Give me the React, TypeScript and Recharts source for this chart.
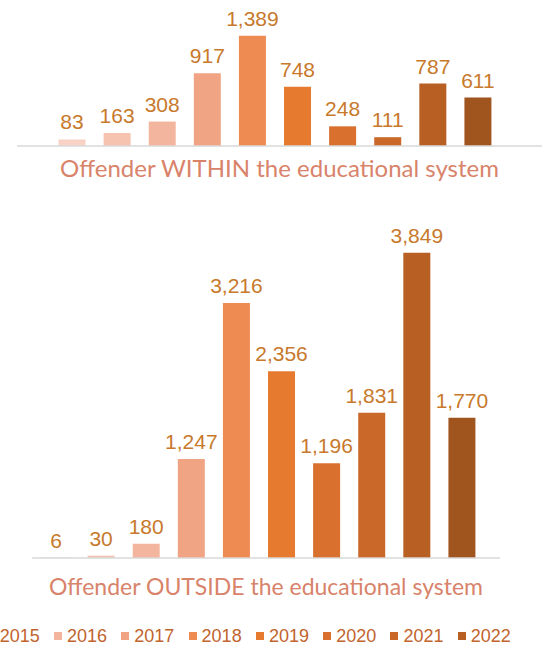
import { BarChart, Bar, XAxis, YAxis, Cell, LabelList } from 'recharts';

const years = ['2013', '2014', '2015', '2016', '2017', '2018', '2019', '2020', '2021', '2022'];
const withinValues = [83, 163, 308, 917, 1389, 748, 248, 111, 787, 611];
const outsideValues = [6, 30, 180, 1247, 3216, 2356, 1196, 1831, 3849, 1770];
const legendYears = ['2014', '2015', '2016', '2017', '2018', '2019', '2020', '2021', '2022'];

const COLORS = [
  '#f9d2c6', '#f6c3b1', '#f4b59e', '#f1a483', '#ee8b52',
  '#e67b30', '#d9702e', '#c96828', '#b85f24', '#a0551f',
];

const LABEL_COLOR = '#c8792b';
const TITLE_COLOR = '#d8836a';
const LEGEND_COLOR = '#c2642e';
const AXIS_COLOR = '#d9d9d9';
const SANS = "'Liberation Sans', Arial, sans-serif";

const withinData = years.map((year, i) => ({ year, value: withinValues[i] }));
const outsideData = years.map((year, i) => ({ year, value: outsideValues[i] }));

// value label above each bar, baseline 10px over the bar top
const renderValue = (props: any) => {
  const { x, y, width, value } = props;
  return (
    <text
      x={Number(x) + Number(width) / 2}
      y={Number(y) - 10}
      textAnchor="middle"
      fill={LABEL_COLOR}
      style={{ fontSize: 21, fontFamily: SANS }}
    >
      {Number(value).toLocaleString('en-US')}
    </text>
  );
};

interface PanelProps {
  data: { year: string; value: number }[];
  title: string;
  titleSize: number;
  height: number;
  yMax: number;
  margin: { top: number; right: number; left: number; bottom: number };
  padding: { left: number; right: number };
  titleOffset: number;
}

function Panel({ data, title, titleSize, height, yMax, margin, padding, titleOffset }: PanelProps) {
  return (
    <BarChart width={544} height={height} data={data} margin={margin} barCategoryGap="20%">
      <XAxis
        dataKey="year"
        tick={false}
        tickLine={false}
        height={40}
        padding={padding}
        axisLine={{ stroke: AXIS_COLOR, strokeWidth: 1.5 }}
        label={{
          value: title,
          position: 'insideBottom',
          offset: titleOffset,
          fill: TITLE_COLOR,
          style: { fontSize: titleSize, fontFamily: 'Lato' },
        }}
      />
      <YAxis type="number" domain={[0, yMax]} hide />
      <Bar dataKey="value" isAnimationActive={false}>
        {data.map((_, index) => (
          <Cell key={`cell-${index}`} fill={COLORS[index % COLORS.length]} />
        ))}
        <LabelList dataKey="value" content={renderValue} />
      </Bar>
    </BarChart>
  );
}

export default function App() {
  return (
    <div style={{ position: 'absolute', left: 0, top: 0, width: 544, height: 648, overflow: 'hidden', background: '#fff' }}>
      <div style={{ position: 'absolute', left: 0, top: 0 }}>
        <Panel
          data={withinData}
          title="Offender WITHIN the educational system"
          titleSize={24}
          height={190}
          yMax={1600}
          margin={{ top: 19.1, right: 2, left: 17, bottom: 4 }}
          padding={{ left: 32.5, right: 41.5 }}
          titleOffset={9.3}
        />
      </div>
      <div style={{ position: 'absolute', left: 0, top: 200 }}>
        <Panel
          data={outsideData}
          title="Offender OUTSIDE the educational system"
          titleSize={23}
          height={410}
          yMax={4000}
          margin={{ top: 40.8, right: 44, left: 32, bottom: 12 }}
          padding={{ left: 1.5, right: 15.5 }}
          titleOffset={3}
        />
      </div>
      {/* legend, first entries run off the left edge as in the source */}
      <div style={{ position: 'absolute', left: -80.6, top: 625, display: 'flex', fontFamily: SANS, fontSize: 18, color: LEGEND_COLOR, lineHeight: '22px' }}>
        {legendYears.map((y, i) => (
          <div key={y} style={{ width: 67.3, display: 'flex', alignItems: 'center', flexShrink: 0 }}>
            <span style={{ width: 8, height: 8, background: COLORS[i], marginRight: 5, display: 'inline-block', flexShrink: 0 }} />
            <span>{y}</span>
          </div>
        ))}
      </div>
    </div>
  );
}
